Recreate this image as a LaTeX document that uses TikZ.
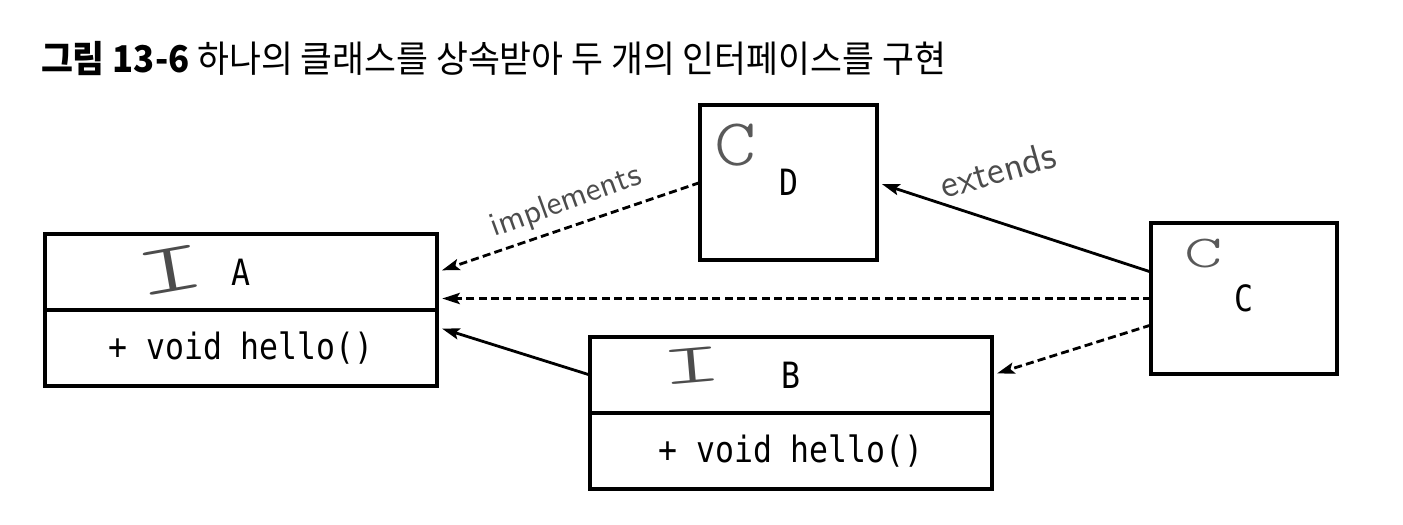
\documentclass[tikz,border=0pt]{standalone}
\usepackage{fontspec}
\newfontfamily\krfont[FakeStretch=0.94]{Noto Sans CJK KR}
\newfontfamily\codefont[FakeStretch=0.87]{DejaVu Sans Mono}
\newfontfamily\handfont{lmmonolt10-regular.otf}
\usetikzlibrary{positioning, arrows.meta}

\begin{document}
\begin{tikzpicture}[semithick,
    box/.style={rectangle, draw, line width=0.9pt, inner sep=0pt, outer sep=0pt,
        font=\codefont\fontsize{10.3}{12}\selectfont},
    imark/.style={text=black!70, inner sep=0pt, font=\handfont\fontsize{20}{20}\selectfont},
    cmark/.style={text=black!65, inner sep=0pt, font=\handfont\fontsize{19}{19}\selectfont},
    note/.style={text=black!70, inner sep=0pt, font=\sffamily\fontsize{9.5}{10}\selectfont},
    link/.style={line width=0.8pt, -{Stealth[length=5pt, width=3.2pt, inset=1pt]}, shorten >=1.5pt},
    dashlink/.style={link, dash pattern=on 2.3pt off 1.2pt}]

    \useasboundingbox (0,0) rectangle (14.03,-5.24);

    % Title
    \node[anchor=base west, inner sep=0pt, font=\krfont\fontsize{10.5}{12}\selectfont] (title) at (0.40,-0.72)
        {{\bfseries 그림 13-6} 하나의 클래스를 상속받아 두 개의 인터페이스를 구현};

    % Nodes
    \node[box, minimum width=3.92cm, minimum height=0.76cm, anchor=north west] (ahead) at (0.45,-2.34) {A};
    \node[box, minimum width=3.92cm, minimum height=0.76cm, below=0pt of ahead] (abody) {+ void hello()};
    \node[box, minimum width=4.02cm, minimum height=0.76cm, anchor=north west] (bhead) at (5.90,-3.37) {B};
    \node[box, minimum width=4.02cm, minimum height=0.76cm, below=0pt of bhead] (bbody) {+ void hello()};
    \node[box, minimum width=1.77cm, minimum height=1.55cm] (d) at (7.885,-1.825) {D};
    \node[box, minimum width=1.86cm, minimum height=1.51cm] (c) at (12.44,-2.985) {C};

    % Marks
    \node[imark, rotate=10] (amark) at (1.70,-2.70) {\scalebox{1.9}[1]{I}};
    \node[imark, rotate=5, font=\handfont\fontsize{16}{16}\selectfont] (bmark) at (6.92,-3.66) {\scalebox{2.1}[1]{I}};
    \node[cmark] (dmark) at (7.36,-1.45) {\scalebox{1.2}[1]{C}};
    \node[cmark, font=\handfont\fontsize{13}{13}\selectfont] (cmark) at (12.04,-2.54) {\scalebox{1.6}[1]{C}};

    % Labels
    \node[note, rotate=20] (implabel) at (5.66,-2.02) {implements};
    \node[note, rotate=16, font=\sffamily\fontsize{11}{11}\selectfont] (extlabel) at (9.98,-1.70) {extends};

    % Edges
    \draw[dashlink] (d.west) -- (ahead.east);
    \draw[link] ([yshift=0.265cm]c.west) -- (d.east);
    \draw[dashlink] (c.west) -- (c.west -| ahead.east);
    \draw[dashlink] ([yshift=-0.265cm]c.west) -- (bhead.east);
    \draw[link] (bhead.west) -- ([yshift=0.21cm]abody.east);

\end{tikzpicture}
\end{document}
